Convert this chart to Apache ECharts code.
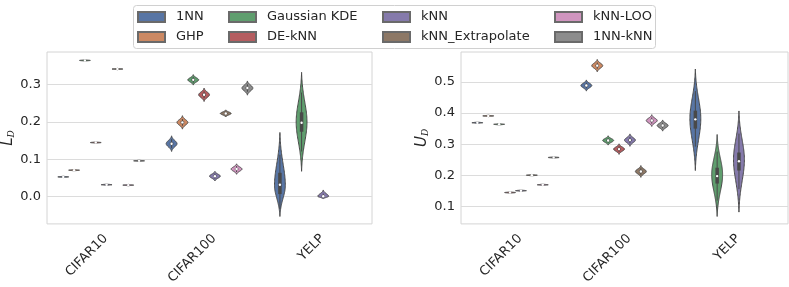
<!DOCTYPE html>
<html><head><meta charset="utf-8">
<script src="https://cdn.jsdelivr.net/npm/echarts@6/dist/echarts.min.js"></script>
<style>html,body{margin:0;padding:0;background:#fff}#c{width:789px;height:287px}</style>
</head><body><div id="c"></div>
<script>
const categories = ['CIFAR10', 'CIFAR100', 'YELP'];
const methods = ['1NN', 'GHP', 'Gaussian KDE', 'DE-kNN', 'kNN', 'kNN_Extrapolate', 'kNN-LOO', '1NN-kNN'];
const palette = ['#5875a4', '#cc8963', '#5f9e6e', '#b55d60', '#857aab', '#8d7866', '#d095bf', '#8c8c8c'];

// each row: [lo, whiskerLo, q1, median, q3, whiskerHi, hi, mode]  (per dataset; null = not run)
const L_1NN    = [[0.051,0.053,0.053,0.053,0.053,0.053,0.055,0.053], [0.121,0.130,0.139,0.142,0.145,0.154,0.163,0.142], [-0.053,-0.033,0.007,0.032,0.064,0.112,0.172,0.030]];
const L_GHP    = [[0.069,0.071,0.071,0.071,0.071,0.071,0.073,0.071], [0.181,0.190,0.196,0.199,0.202,0.208,0.217,0.199], null];
const L_GKDE   = [[0.363,0.365,0.365,0.365,0.365,0.365,0.367,0.365], [0.299,0.305,0.310,0.313,0.316,0.321,0.327,0.313], [0.068,0.121,0.174,0.198,0.226,0.279,0.333,0.200]];
const L_DEkNN  = [[0.143,0.145,0.145,0.145,0.145,0.145,0.147,0.145], [0.255,0.264,0.270,0.273,0.276,0.282,0.291,0.273], null];
const L_kNN    = [[0.030,0.032,0.032,0.032,0.032,0.032,0.034,0.032], [0.042,0.048,0.053,0.055,0.057,0.062,0.068,0.055], [-0.006,-0.003,0.000,0.001,0.003,0.008,0.018,0.001]];
const L_kNNExt = [[0.340,0.342,0.342,0.342,0.342,0.342,0.344,0.342], [0.2135,0.218,0.221,0.223,0.225,0.228,0.2325,0.223], null];
const L_kNNLOO = [[0.029,0.031,0.031,0.031,0.031,0.031,0.033,0.031], [0.060,0.066,0.072,0.074,0.076,0.082,0.088,0.074], null];
const L_1NNkNN = [[0.094,0.096,0.096,0.096,0.096,0.096,0.098,0.096], [0.272,0.281,0.288,0.291,0.294,0.301,0.310,0.291], null];

const U_1NN    = [[0.3665,0.369,0.369,0.369,0.369,0.369,0.3715,0.369], [0.471,0.480,0.486,0.489,0.492,0.498,0.507,0.489], [0.215,0.292,0.350,0.380,0.408,0.471,0.542,0.382]];
const U_GHP    = [[0.3885,0.391,0.391,0.391,0.391,0.391,0.3935,0.391], [0.533,0.543,0.550,0.553,0.556,0.563,0.573,0.553], null];
const U_GKDE   = [[0.3615,0.364,0.364,0.364,0.364,0.364,0.3665,0.364], [0.297,0.304,0.309,0.312,0.315,0.320,0.327,0.312], [0.067,0.118,0.173,0.197,0.224,0.276,0.331,0.202]];
const U_DEkNN  = [[0.1415,0.144,0.144,0.144,0.144,0.144,0.1465,0.144], [0.267,0.275,0.281,0.284,0.287,0.293,0.301,0.284], null];
const U_kNN    = [[0.1475,0.150,0.150,0.150,0.150,0.150,0.1525,0.150], [0.293,0.303,0.310,0.313,0.316,0.323,0.333,0.313], [0.081,0.155,0.215,0.245,0.273,0.334,0.407,0.250]];
const U_kNNExt = [[0.1975,0.200,0.200,0.200,0.200,0.200,0.2025,0.200], [0.193,0.202,0.209,0.212,0.215,0.222,0.231,0.212], null];
const U_kNNLOO = [[0.1665,0.169,0.169,0.169,0.169,0.169,0.1715,0.169], [0.357,0.366,0.373,0.376,0.379,0.386,0.395,0.376], null];
const U_1NNkNN = [[0.2545,0.257,0.257,0.257,0.257,0.257,0.2595,0.257], [0.342,0.351,0.357,0.360,0.363,0.369,0.378,0.360], null];

const L_ticks = [0.0, 0.1, 0.2, 0.3];
const U_ticks = [0.1, 0.2, 0.3, 0.4, 0.5];

const L_all = [L_1NN, L_GHP, L_GKDE, L_DEkNN, L_kNN, L_kNNExt, L_kNNLOO, L_1NNkNN];
const U_all = [U_1NN, U_GHP, U_GKDE, U_DEkNN, U_kNN, U_kNNExt, U_kNNLOO, U_1NNkNN];

const EDGE = '#494949';
const TXT = '#262626';
const FONT = 'DejaVu Sans';

function makeRender(hue, color) {
  return function (params, api) {
    const cat = api.value(0);
    const lo = api.value(1), wlo = api.value(2), q1 = api.value(3), med = api.value(4),
          q3 = api.value(5), whi = api.value(6), hi = api.value(7), mode = api.value(8);
    const band = api.size([1, 0])[0];
    const cx = api.coord([cat, med])[0] + (hue - 3.5) * 0.1 * band;
    const hw = 0.05 * band;
    const N = 40, e3 = Math.exp(-3);
    const prof = t => Math.max(0, (Math.exp(-3 * t * t) - e3) / (1 - e3));
    const ys = [];
    for (let i = 0; i <= N; i++) ys.push(lo + (mode - lo) * i / N);
    for (let i = 1; i <= N; i++) ys.push(mode + (hi - mode) * i / N);
    const right = [], left = [];
    ys.forEach(y => {
      let t;
      if (y >= mode) t = hi > mode ? (y - mode) / (hi - mode) : 0;
      else t = mode > lo ? (mode - y) / (mode - lo) : 0;
      const w = hw * prof(Math.abs(t));
      const py = api.coord([cat, y])[1];
      right.push([cx + w, py]);
      left.push([cx - w, py]);
    });
    const pts = right.concat(left.reverse());
    const yw1 = api.coord([cat, wlo])[1], yw2 = api.coord([cat, whi])[1];
    const yq1 = api.coord([cat, q1])[1], yq3 = api.coord([cat, q3])[1];
    const ym = api.coord([cat, med])[1];
    return {
      type: 'group',
      children: [
        { type: 'polygon', shape: { points: pts }, style: { fill: color, stroke: EDGE, lineWidth: 1 } },
        { type: 'line', shape: { x1: cx, y1: yw1, x2: cx, y2: yw2 }, style: { stroke: EDGE, lineWidth: 1 } },
        { type: 'line', shape: { x1: cx, y1: yq1, x2: cx, y2: yq3 }, style: { stroke: EDGE, lineWidth: 3.5 } },
        { type: 'circle', shape: { cx: cx, cy: ym, r: 1.2 }, style: { fill: '#ffffff' } }
      ]
    };
  };
}

const series = [];
[L_all, U_all].forEach((all, gi) => {
  all.forEach((rows, h) => {
    const data = [];
    rows.forEach((r, i) => { if (r) data.push([i].concat(r)); });
    series.push({
      type: 'custom',
      name: methods[h],
      xAxisIndex: gi, yAxisIndex: gi,
      color: palette[h],
      itemStyle: { color: palette[h], borderColor: '#6a6a6a', borderWidth: 0.5 },
      renderItem: makeRender(h, palette[h]),
      encode: { x: 0, y: [1, 7] },
      data: data,
      z: 3
    });
  });
});

function yAx(gi, min, max, ticks, letter) {
  return {
    type: 'value', gridIndex: gi, min: min, max: max,
    axisLine: { show: false }, axisTick: { show: false, customValues: ticks },
    axisLabel: { customValues: ticks, formatter: v => v.toFixed(1), fontSize: 13, color: TXT, fontFamily: FONT, margin: 6 },
    splitLine: { show: true, lineStyle: { color: '#dcdcdc', width: 1 } },
    name: '{m|' + letter + '}{s|D}', nameLocation: 'middle', nameRotate: 90, nameGap: 31,
    nameTextStyle: { rich: {
      m: { fontSize: 15, fontStyle: 'italic', color: TXT, fontFamily: FONT, verticalAlign: 'bottom', lineHeight: 20 },
      s: { fontSize: 9, fontStyle: 'italic', color: TXT, fontFamily: 'DejaVu Serif', verticalAlign: 'bottom', lineHeight: 14 }
    } }
  };
}
function xAx(gi) {
  return {
    type: 'category', gridIndex: gi, data: categories, boundaryGap: true,
    axisLine: { show: false }, axisTick: { show: false },
    axisLabel: { rotate: 45, fontSize: 13, color: TXT, fontFamily: FONT, margin: 8, verticalAlign: 'top' },
    splitLine: { show: false }
  };
}

const colLeft = [137, 228, 382, 554];
const legends = [0, 1, 2, 3].map(c => ({
  orient: 'vertical', left: colLeft[c], top: 10, padding: 0, z: 10,
  data: [methods[2 * c], methods[2 * c + 1]],
  icon: 'rect', itemWidth: 27, itemHeight: 10, itemGap: 6, selectedMode: false,
  textStyle: { fontSize: 13, color: TXT, fontFamily: FONT, padding: [0, 0, 0, 6], lineHeight: 14 }
}));

const option = {
  animation: false,
  backgroundColor: '#ffffff',
  textStyle: { fontFamily: FONT },
  grid: [
    { left: 43, top: 52, width: 329, height: 175, show: true, borderColor: '#d4d4d4', borderWidth: 1, backgroundColor: 'transparent' },
    { left: 461, top: 52, width: 327, height: 175, show: true, borderColor: '#d4d4d4', borderWidth: 1, backgroundColor: 'transparent' }
  ],
  xAxis: [xAx(0), xAx(1)],
  yAxis: [yAx(0, -0.0729, 0.3876, L_ticks, 'L'), yAx(1, 0.043, 0.597, U_ticks, 'U')],
  legend: legends,
  graphic: [{
    type: 'rect', z: 5, shape: { x: 133.5, y: 5.5, width: 522, height: 43, r: 3 },
    style: { fill: '#ffffff', stroke: '#d0d0d0', lineWidth: 1 }
  }],
  series: series
};
const chart = echarts.init(document.getElementById('c'), null, { renderer: 'canvas' });
chart.setOption(option);
</script></body></html>
